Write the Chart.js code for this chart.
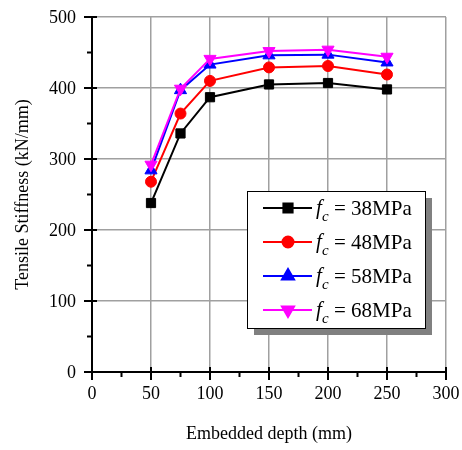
<!DOCTYPE html>
<html>
<head>
<meta charset="utf-8">
<script src="https://cdn.jsdelivr.net/npm/chart.js@4"></script>
<style>
  html, body { margin: 0; padding: 0; background: #fff; }
  #wrap { width: 462px; height: 450px; position: relative; }
</style>
</head>
<body>
<div id="wrap"><canvas id="c"></canvas></div>
<script>
// =================== DATA ===================
const depth = [50, 75, 100, 150, 200, 250];
const fc38 = [238, 336, 387, 405, 407, 398];
const fc48 = [268, 364, 410, 429, 431, 419];
const fc58 = [284, 397, 433, 446, 447, 436];
const fc68 = [292, 399, 441, 452, 454, 444];
const fcLabels = ["38MPa", "48MPa", "58MPa", "68MPa"];

const series = [fc38, fc48, fc58, fc68];
const colors = ["#000000", "#ff0000", "#0000ff", "#ff00ff"];
const styles = [
  { pointStyle: "rect", radius: 6.5, rotation: 0 },
  { pointStyle: "circle", radius: 5.5, rotation: 0 },
  { pointStyle: "triangle", radius: 7, rotation: 0 },
  { pointStyle: "triangle", radius: 7, rotation: 180 }
];

const serif = "Liberation Serif";
const GRID = "#a0a0a0";
Chart.defaults.font.family = serif;
Chart.defaults.font.size = 18;
Chart.defaults.color = "#000";

// =================== TICKS (crossing majors + minors, serif labels) ===================
const tickPlugin = {
  id: "ticks",
  afterDraw(chart) {
    const ctx = chart.ctx, x = chart.scales.x, y = chart.scales.y;
    const a = chart.chartArea;
    ctx.save();
    ctx.strokeStyle = "#000";
    ctx.lineWidth = 2;
    ctx.beginPath();
    for (let v = 0; v <= 300; v += 25) {
      const px = x.getPixelForValue(v);
      if (v % 50 === 0) { ctx.moveTo(px, a.bottom - 5); ctx.lineTo(px, a.bottom + 8); }
      else { ctx.moveTo(px, a.bottom); ctx.lineTo(px, a.bottom + 5); }
    }
    for (let v = 0; v <= 500; v += 50) {
      const py = y.getPixelForValue(v);
      if (v % 100 === 0) { ctx.moveTo(a.left - 8, py); ctx.lineTo(a.left + 5, py); }
      else { ctx.moveTo(a.left - 5, py); ctx.lineTo(a.left, py); }
    }
    ctx.stroke();

    // tick labels from the library's own ticks
    ctx.fillStyle = "#000";
    ctx.font = "18px " + serif;
    ctx.textBaseline = "alphabetic";
    ctx.textAlign = "center";
    x.ticks.forEach(t => ctx.fillText(String(t.value), x.getPixelForValue(t.value), a.bottom + 27));
    ctx.textAlign = "right";
    y.ticks.forEach(t => ctx.fillText(String(t.value), a.left - 16, y.getPixelForValue(t.value) + 6));
    ctx.restore();
  }
};

// =================== LEGEND BOX ===================
const legendPlugin = {
  id: "boxLegend",
  afterDraw(chart) {
    const ctx = chart.ctx;
    const L = 247, T = 191, W = 178, H = 137;
    ctx.save();
    ctx.fillStyle = "#808080";
    ctx.fillRect(L + 7, T + 7, W, H);
    ctx.fillStyle = "#fff";
    ctx.fillRect(L, T, W, H);
    ctx.strokeStyle = "#000";
    ctx.lineWidth = 1;
    ctx.strokeRect(L + 0.5, T + 0.5, W, H);

    const rows = [208, 242, 276, 310];
    rows.forEach((ry, i) => {
      ctx.strokeStyle = colors[i];
      ctx.fillStyle = colors[i];
      ctx.lineWidth = 2;
      ctx.beginPath();
      ctx.moveTo(263, ry);
      ctx.lineTo(312, ry);
      ctx.stroke();
      Chart.helpers.drawPoint(ctx, {
        pointStyle: styles[i].pointStyle,
        radius: styles[i].radius,
        rotation: styles[i].rotation,
        borderWidth: 1
      }, 288, ry);

      ctx.fillStyle = "#000";
      ctx.textBaseline = "alphabetic";
      ctx.textAlign = "left";
      ctx.font = "italic 21px " + serif;
      ctx.fillText("f", 316, ry + 6);
      ctx.font = "italic 15px " + serif;
      ctx.fillText("c", 322, ry + 13);
      ctx.font = "21px " + serif;
      ctx.fillText("= " + fcLabels[i], 334, ry + 7);
    });
    ctx.restore();
  }
};

// =================== CHART ===================
const datasets = series.map((vals, i) => ({
  label: "fc = " + fcLabels[i],
  data: depth.map((d, j) => ({ x: d, y: vals[j] })),
  borderColor: colors[i],
  backgroundColor: colors[i],
  borderWidth: 2,
  pointStyle: styles[i].pointStyle,
  pointRadius: styles[i].radius,
  pointRotation: styles[i].rotation,
  pointBorderWidth: 1,
  order: 3 - i
}));

new Chart(document.getElementById("c"), {
  type: "line",
  data: { datasets },
  options: {
    responsive: true,
    maintainAspectRatio: false,
    animation: false,
    layout: { padding: { top: 17, right: 16, left: 0, bottom: 0 } },
    plugins: { legend: { display: false }, tooltip: { enabled: false } },
    scales: {
      x: {
        type: "linear",
        min: 0, max: 300,
        afterFit(s) { s.height = 78; s.paddingLeft = 0; s.paddingRight = 0; },
        ticks: { stepSize: 50, padding: 10, color: "rgba(0,0,0,0)" },
        grid: { color: GRID, lineWidth: 1.5, drawTicks: false },
        border: { color: "#000", width: 2 },
        title: { display: true, text: "Embedded depth (mm)", padding: { top: 0, bottom: 5 } }
      },
      y: {
        min: 0, max: 500,
        afterFit(s) { s.width = 92; s.paddingTop = 0; s.paddingBottom = 0; },
        ticks: { stepSize: 100, padding: 12, color: "rgba(0,0,0,0)" },
        grid: { color: GRID, lineWidth: 1.5, drawTicks: false },
        border: { color: "#000", width: 2 },
        title: { display: true, text: "Tensile Stiffness (kN/mm)", padding: { top: 12, bottom: 0 } }
      }
    }
  },
  plugins: [tickPlugin, legendPlugin]
});
</script>
</body>
</html>
